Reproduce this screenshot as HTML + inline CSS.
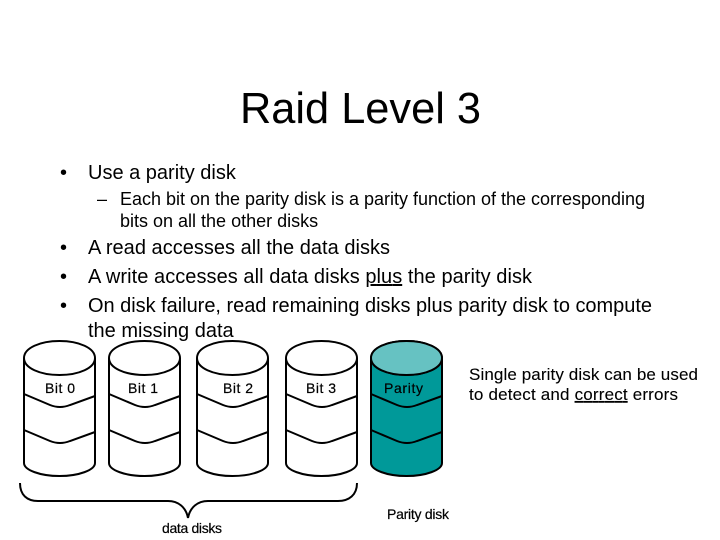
<!DOCTYPE html>
<html><head><meta charset="utf-8">
<style>
html,body{margin:0;padding:0;background:#fff;width:720px;height:540px;overflow:hidden}
svg{display:block}
text{font-family:"Liberation Sans",Arial,sans-serif;fill:#000}
.b{font-size:20px}
.s{font-size:18px}
.l{font-size:14px;stroke:#000;stroke-width:.2}
.n{font-size:17px;stroke:#000;stroke-width:.1}
</style></head>
<body>
<svg width="720" height="540" viewBox="0 0 720 540" xmlns="http://www.w3.org/2000/svg">
<defs>
<g id="cyl" stroke="#000" stroke-width="2">
<path d="M0 358 C0 348 16 341 35.500 341 C55 341 71 348 71 358 L71 463 C71 470 55 476 35.500 476 C16 476 0 470 0 463 Z"/>
<path d="M0 358 C0 368 16 375 35.500 375 C55 375 71 368 71 358" fill="none"/>
<path d="M0 394 L26 405 Q36 409 46 405 L71 396" fill="none"/>
<path d="M0 430 L26 441 Q36 445 46 441 L71 432" fill="none"/>
</g>
</defs>
<text x="360.500" y="123" text-anchor="middle" textLength="241" lengthAdjust="spacingAndGlyphs" style="font-size:44px">Raid Level 3</text>
<text class="b" x="60" y="179">•</text>
<text class="b" x="88" y="179">Use a parity disk</text>
<text class="s" x="97" y="205">–</text>
<text class="s" x="120" y="205" textLength="525">Each bit on the parity disk is a parity function of the corresponding</text>
<text class="s" x="120" y="227">bits on all the other disks</text>
<text class="b" x="60" y="254">•</text>
<text class="b" x="88" y="254" textLength="302">A read accesses all the data disks</text>
<text class="b" x="60" y="283">•</text>
<text class="b" x="88" y="283" textLength="444">A write accesses all data disks <tspan text-decoration="underline">plus</tspan> the parity disk</text>
<text class="b" x="60" y="312">•</text>
<text class="b" x="88" y="312" textLength="564">On disk failure, read remaining disks plus parity disk to compute</text>
<text class="b" x="88" y="337">the missing data</text>

<use href="#cyl" x="24" fill="#fff"/>
<use href="#cyl" x="109" fill="#fff"/>
<use href="#cyl" x="197" fill="#fff"/>
<use href="#cyl" x="286" fill="#fff"/>
<use href="#cyl" x="371" fill="#009999"/>
<path d="M371 358 C371 348 387 341 406.500 341 C426 341 442 348 442 358 C442 368 426 375 406.500 375 C387 375 371 368 371 358 Z" fill="#66c2c2" stroke="#000" stroke-width="2"/>

<text class="l" x="45" y="393" textLength="30">Bit 0</text>
<text class="l" x="128" y="393" textLength="30">Bit 1</text>
<text class="l" x="223" y="393" textLength="30">Bit 2</text>
<text class="l" x="306" y="393" textLength="30">Bit 3</text>
<text class="l" x="384" y="393" textLength="39">Parity</text>

<path d="M20 483 C20 495 27 501 38 501 L168 501 C178 501 186 507 188 518 C190 507 198 501 208 501 L338 501 C349 501 357 495 357 483" fill="none" stroke="#000" stroke-width="2"/>

<text class="l" x="162" y="533" textLength="60">data disks</text>
<text class="l" x="387" y="519" textLength="62">Parity disk</text>

<text class="n" x="469" y="380" textLength="229">Single parity disk can be used</text>
<text class="n" x="469" y="400" textLength="209">to detect and <tspan text-decoration="underline">correct</tspan> errors</text>
</svg>
</body></html>
